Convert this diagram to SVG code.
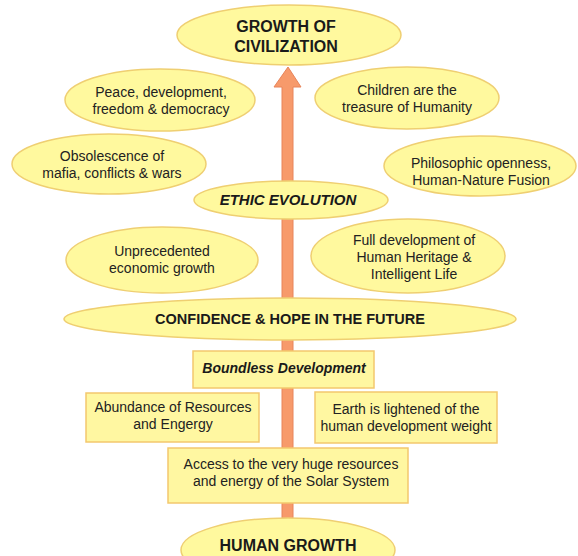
<svg xmlns="http://www.w3.org/2000/svg" width="578" height="556" viewBox="0 0 578 556">
  <style>
    .oval { fill: #FFF99E; stroke: #EFCF72; stroke-width: 1.5; }
    .box { fill: #FFF7A1; stroke: #F3C86E; stroke-width: 1.5; }
    .txt { font-family: "Liberation Sans", Arial, sans-serif; font-size: 14px; fill: #222222; text-anchor: middle; }
    .head { font-family: "Liberation Sans", Arial, sans-serif; font-weight: bold; fill: #1a1a1a; text-anchor: middle; }
    .it { font-style: italic; }
    .arrow { fill: #F79A6B; stroke: #E8845A; stroke-width: 1; }
  </style>
  <rect width="578" height="556" fill="#ffffff"/>

  <!-- upward growth arrow running behind the nodes -->
  <g id="connectors">
    <polygon class="arrow" points="282,522 282,87 274,87 288,67 301,87 293,87 293,522"/>
  </g>

  <g id="growth-of-civilization">
    <ellipse class="oval" cx="289" cy="35" rx="112" ry="30"/>
    <text class="head" font-size="16" x="286" y="32">GROWTH OF</text>
    <text class="head" font-size="16" x="286" y="52">CIVILIZATION</text>
  </g>

  <g id="peace">
    <ellipse class="oval" cx="160" cy="100" rx="95" ry="31"/>
    <text class="txt" x="161" y="97">Peace, development,</text>
    <text class="txt" x="161" y="114">freedom &amp; democracy</text>
  </g>

  <g id="children">
    <ellipse class="oval" cx="407" cy="98" rx="92" ry="31"/>
    <text class="txt" x="407" y="95">Children are the</text>
    <text class="txt" x="407" y="112">treasure of Humanity</text>
  </g>

  <g id="obsolescence">
    <ellipse class="oval" cx="109" cy="164" rx="97" ry="30"/>
    <text class="txt" x="112" y="161">Obsolescence of</text>
    <text class="txt" x="112" y="178">mafia, conflicts &amp; wars</text>
  </g>

  <g id="philosophic">
    <ellipse class="oval" cx="480" cy="166" rx="96" ry="30"/>
    <text class="txt" x="481" y="168">Philosophic openness,</text>
    <text class="txt" x="481" y="185">Human-Nature Fusion</text>
  </g>

  <g id="ethic-evolution">
    <ellipse class="oval" cx="291" cy="200" rx="97" ry="19"/>
    <text class="head it" font-size="15" x="288" y="205">ETHIC EVOLUTION</text>
  </g>

  <g id="economic-growth">
    <ellipse class="oval" cx="162" cy="260" rx="96" ry="33"/>
    <text class="txt" x="162" y="256">Unprecedented</text>
    <text class="txt" x="162" y="273">economic growth</text>
  </g>

  <g id="human-heritage">
    <ellipse class="oval" cx="408" cy="256" rx="97" ry="37"/>
    <text class="txt" x="414" y="245">Full development of</text>
    <text class="txt" x="414" y="262">Human Heritage &amp;</text>
    <text class="txt" x="414" y="279">Intelligent Life</text>
  </g>

  <g id="confidence">
    <ellipse class="oval" cx="290" cy="319" rx="226" ry="21"/>
    <text class="head" font-size="14.5" x="290" y="324">CONFIDENCE &amp; HOPE IN THE FUTURE</text>
  </g>

  <g id="boundless-development">
    <rect class="box" x="193" y="351" width="181" height="37"/>
    <text class="head it" font-size="14" x="284" y="373">Boundless Development</text>
  </g>

  <g id="abundance">
    <rect class="box" x="86" y="393" width="173" height="49"/>
    <text class="txt" x="173" y="412">Abundance of Resources</text>
    <text class="txt" x="173" y="429">and Engergy</text>
  </g>

  <g id="earth-lightened">
    <rect class="box" x="315" y="392" width="182" height="51"/>
    <text class="txt" x="406" y="414">Earth is lightened of the</text>
    <text class="txt" x="406" y="431">human development weight</text>
  </g>

  <g id="solar-system">
    <rect class="box" x="168" y="448" width="240" height="55"/>
    <text class="txt" x="291" y="469">Access to the very huge resources</text>
    <text class="txt" x="291" y="486">and energy of the Solar System</text>
  </g>

  <g id="human-growth">
    <ellipse class="oval" cx="288" cy="550" rx="107" ry="32"/>
    <text class="head" font-size="16" x="288" y="551">HUMAN GROWTH</text>
  </g>
</svg>
